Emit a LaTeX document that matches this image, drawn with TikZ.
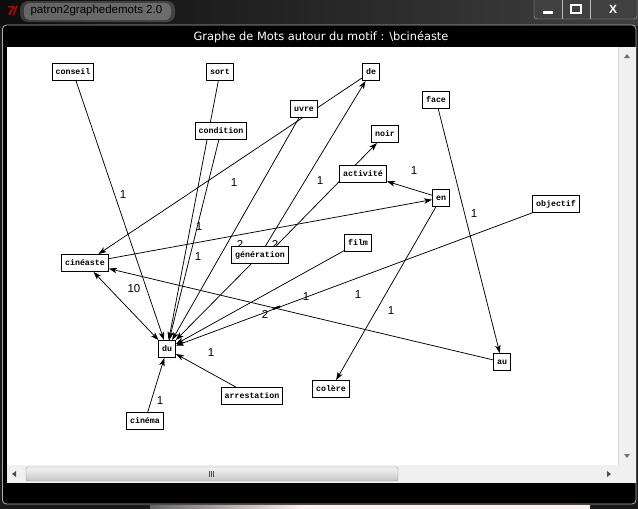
\documentclass[tikz,border=0pt]{standalone}
\usepackage{fontspec}
\setmainfont{Liberation Sans}
\newfontfamily\wordfont{Liberation Mono}
\newfontfamily\uifont{DejaVu Sans}
\usetikzlibrary{arrows.meta}
\pgfdeclarelayer{bg}
\pgfdeclarelayer{back}
\pgfsetlayers{bg,back,main}
\begin{document}
\begin{tikzpicture}[x=1pt,y=-1pt,
  word/.style={draw=black, line width=0.9pt, fill=white,
    font=\wordfont\bfseries\fontsize{8.3}{9}\selectfont,
    inner xsep=3.5pt, inner ysep=0pt, minimum height=17pt,
    text height=5.5pt, text depth=1.5pt},
  lab/.style={font=\fontsize{11.5}{12}\selectfont, inner sep=0pt},
  link/.style={line width=0.75pt, -{Stealth[length=8pt,width=5.5pt,inset=2pt]}},
  both/.style={line width=0.75pt, {Stealth[length=8pt,width=5.5pt,inset=2pt]}-{Stealth[length=8pt,width=5.5pt,inset=2pt]}},
]
\useasboundingbox (0,0) rectangle (638,509);

% ---------- window chrome ----------
\begin{pgfonlayer}{bg}
\fill[black!90] (0,0) rectangle (638,509);
\shade[left color=black!95, right color=black!75] (0,0) rectangle (638,25);
\fill[white, opacity=0.18, rounded corners=8pt] (20,1) rectangle (175,22);
\fill[white, opacity=0.22, rounded corners=6pt] (24,3) rectangle (171,20);
\node[anchor=west, font=\fontsize{11.5}{12}\selectfont, text=black] (wtitle) at (27,11) {patron2graphedemots 2.0};
\node[text=red!85!black, font=\bfseries\itshape\fontsize{13}{13}\selectfont] (icon) at (12,11) {7\kern-1.5pt/};
% buttons
\draw[gray!60, fill=black!75, rounded corners=3pt] (534,-4) rectangle (637,19);
\draw[gray!55] (562,-1) -- (562,19) (590,-1) -- (590,19);
\fill[white] (543,11) rectangle (553,14);
\draw[white, line width=1.6pt] (571,5) rectangle (581,13);
\node[text=white, font=\bfseries\fontsize{12}{12}\selectfont] (closex) at (613,9) {X};
% frame
\fill[black, rounded corners=4pt] (2.5,25) rectangle (636,504);
\draw[gray!65, line width=0.8pt, rounded corners=4pt] (2.5,25) rectangle (636,504);
\node[text=white, font=\uifont\fontsize{11.4}{12}\selectfont] (ctitle) at (321,37) {Graphe de Mots autour du motif : \textbackslash bcinéaste};
% canvas
\fill[white] (7,47) rectangle (618,465);
% vertical scrollbar
\fill[black!6] (618,47) rectangle (636,483);
\draw[black!15] (618,47) -- (618,465);
\fill[black!55] (624,58) -- (630,58) -- (627,54) -- cycle;
\fill[black!55] (624,454) -- (630,454) -- (627,458) -- cycle;
% horizontal scrollbar
\fill[black!6] (7,465) rectangle (618,483);
\fill[black!70] (12,474) -- (16,471) -- (16,477) -- cycle;
\fill[black!70] (611,474) -- (607,471) -- (607,477) -- cycle;
\shade[top color=black!5, bottom color=black!22, draw=black!45, rounded corners=2pt] (26,467) rectangle (398,481);
\draw[black!70] (209,471) -- (209,477) (211,471) -- (211,477) (213,471) -- (213,477);
% desktop below
\fill[black!90] (0,504.5) rectangle (638,509);
\shade[left color=black!60, right color=pink!30] (150,505) rectangle (300,509);
\fill[pink!20] (300,505) rectangle (590,509);
\end{pgfonlayer}

% ---------- nodes ----------
\node[word] (conseil) at (73,72) {conseil};
\node[word] (sort) at (220,72) {sort};
\node[word] (de) at (371,72) {de};
\node[word] (uvre) at (304,109) {uvre};
\node[word] (condition) at (221,131) {condition};
\node[word] (face) at (436,100) {face};
\node[word] (noir) at (385,134) {noir};
\node[word] (activite) at (363,174) {activité};
\node[word] (en) at (441,198) {en};
\node[word] (objectif) at (556,204) {objectif};
\node[word] (cineaste) at (85,263) {cinéaste};
\node[word] (generation) at (260,255) {génération};
\node[word] (film) at (358,243) {film};
\node[word] (du) at (167,349) {du};
\node[word] (au) at (502,362) {au};
\node[word] (colere) at (331,389) {colère};
\node[word] (arrestation) at (252,396) {arrestation};
\node[word] (cinema) at (145,421) {cinéma};

% ---------- connectors and weights ----------
\begin{pgfonlayer}{back}
\draw[link] (conseil) -- (du);
\draw[link] (sort) -- (du);
\draw[link] (condition) -- (du);
\draw[link] (de) -- (cineaste);
\draw[link] (uvre) -- (du);
\draw[link] (generation) -- (de);
\draw[link] ([xshift=16pt]generation.north) -- ([xshift=-8pt]noir.south);
\draw[link] (en) -- (activite);
\draw[link] (cineaste) -- (en);
\draw[link] (en) -- (colere);
\draw[link] (face) -- (au);
\draw[link] (objectif) -- (du);
\draw[link] (film) -- (du);
\draw[link] (au) -- (cineaste);
\draw[both] (cineaste) -- (du);
\draw[link] (generation) -- (du);
\draw[link] (arrestation) -- (du);
\draw[link] (cinema) -- (du);
\draw[line width=2pt] (273,309) -- (280,306.5);

\node[lab] (w1) at (123,195) {1};
\node[lab] (w2) at (234,183) {1};
\node[lab] (w3) at (320,181) {1};
\node[lab] (w4) at (414,171) {1};
\node[lab] (w5) at (474,214) {1};
\node[lab] (w6) at (199,227) {1};
\node[lab] (w7) at (198,257) {1};
\node[lab] (w8) at (240,244) {2};
\node[lab] (w9) at (275,244) {2};
\node[lab] (w10) at (134,289) {10};
\node[lab] (w11) at (306,297) {1};
\node[lab] (w12) at (358,295) {1};
\node[lab] (w13) at (391,311) {1};
\node[lab] (w14) at (265,314) {2};
\node[lab] (w15) at (211,353) {1};
\node[lab] (w16) at (160,401) {1};
\end{pgfonlayer}
\end{tikzpicture}
\end{document}
